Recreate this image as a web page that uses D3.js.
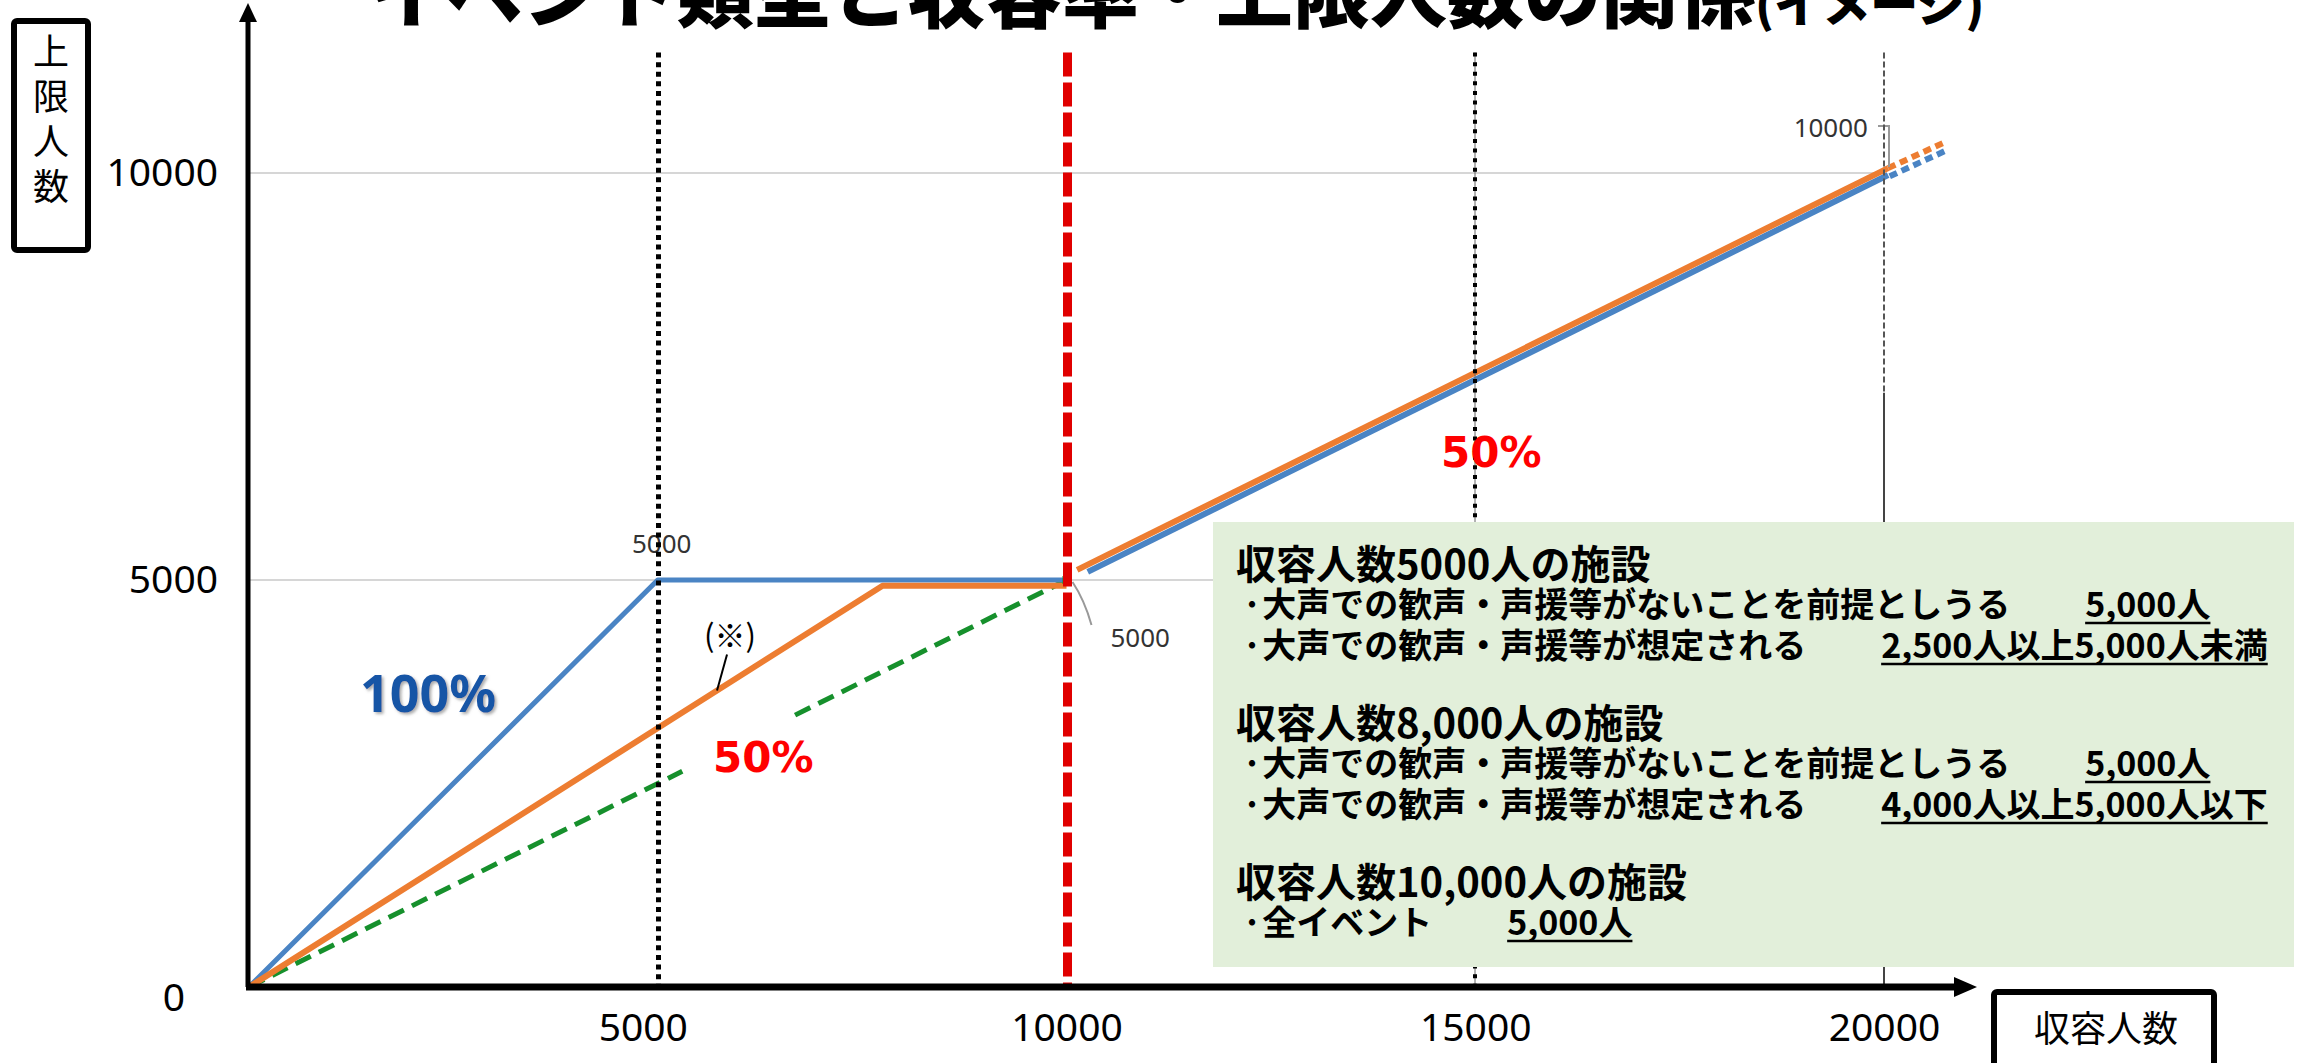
<!DOCTYPE html>
<html>
<head>
<meta charset="utf-8">
<script src="https://cdn.jsdelivr.net/npm/d3@7"></script>
<style>
  body { margin: 0; background: #fff; }
  svg { display: block; }
</style>
</head>
<body>
<svg id="chart" width="2314" height="1063"></svg>
<script>
// ---- data ----
const xTicks = [5000, 10000, 15000, 20000];
const yTicks = [0, 5000, 10000];

// 100% (blue)
const blueX = [0, 5000, 10000];
const blueY = [0, 5000, 5000];
const blueUpperX = [10260, 20050];
const blueUpperY = [5100, 9975];
const blueDotX = [20070, 20790];
const blueDotY = [9960, 10290];

// (※) (orange)
const orangeX = [0, 7750, 10000];
const orangeY = [0, 4930, 4930];
const orangeUpperX = [10130, 20050];
const orangeUpperY = [5125, 10060];
const orangeDotX = [20050, 20770];
const orangeDotY = [10060, 10390];

// 50% (green dashed, broken behind the label box)
const greenLowX = [0, 5300];
const greenLowY = [0, 2650];
const greenHighX = [6680, 10000];
const greenHighY = [3340, 5000];

// vertical guide lines
const guideX = [5000, 10000, 15000, 20000];
const guideTopValue = 11480;

// data labels [x, y]
const pointLabels = [[5000, 5000], [10000, 5000], [20000, 10000]];

// text box contents
const facilityTitles = ["収容人数5000人の施設", "収容人数8,000人の施設", "収容人数10,000人の施設"];
const facilityRules = [
  [["大声での歓声・声援等がないことを前提としうる", "5,000人"], ["大声での歓声・声援等が想定される", "2,500人以上5,000人未満"]],
  [["大声での歓声・声援等がないことを前提としうる", "5,000人"], ["大声での歓声・声援等が想定される", "4,000人以上5,000人以下"]],
  [["全イベント", "5,000人"]]
];

// ---- layout ----
const JP = "'Noto Sans CJK JP', sans-serif";
const NUM = "'Noto Sans', sans-serif";
const BLUE = "#4a84c4", ORANGE = "#ed7d31", GREEN = "#16902c", RED = "#e00000";

const svg = d3.select("#chart");
const x = d3.scaleLinear().domain([0, 20000]).range([249, 1884]);
const y = d3.scaleLinear().domain([0, 10000]).range([987, 173]);

const pts = (xs, ys) => xs.map((v, i) => [v, ys[i]]);
const line = d3.line()
  .x(d => x(d[0]))
  .y(d => y(d[1]));

// gridlines
svg.append("g").selectAll("line")
  .data(yTicks.filter(v => v > 0))
  .join("line")
  .attr("x1", x(0)).attr("x2", x(20000))
  .attr("y1", d => y(d)).attr("y2", d => y(d))
  .attr("stroke", "#d6d6d6").attr("stroke-width", 2);

// series
function drawSeries(data, color, width, dash) {
  svg.append("path")
    .datum(data)
    .attr("d", line)
    .attr("fill", "none")
    .attr("stroke", color)
    .attr("stroke-width", width)
    .attr("stroke-dasharray", dash || null)
    .attr("stroke-linejoin", "round");
}
drawSeries(pts(greenLowX, greenLowY), GREEN, 5, "17,9");
drawSeries(pts(greenHighX, greenHighY), GREEN, 5, "17,9");
drawSeries(pts(blueX, blueY), BLUE, 5);
drawSeries(pts(orangeX, orangeY), ORANGE, 6);
drawSeries(pts(blueUpperX, blueUpperY), BLUE, 6);
drawSeries(pts(blueDotX, blueDotY), BLUE, 6, "8,5");
drawSeries(pts(orangeUpperX, orangeUpperY), ORANGE, 6);
drawSeries(pts(orangeDotX, orangeDotY), ORANGE, 6, "8,5");

// green marker at the 50% end point
svg.append("rect")
  .attr("x", x(10000) - 4).attr("y", y(5000) - 4)
  .attr("width", 8).attr("height", 8)
  .attr("fill", GREEN);

// data labels with leader lines
const labelG = svg.append("g")
  .attr("font-family", NUM).attr("font-size", 26).attr("fill", "#333");
// (5000,5000): label just above the corner
labelG.append("text")
  .attr("x", x(pointLabels[0][0]) + 4).attr("y", y(pointLabels[0][1]) - 27)
  .attr("text-anchor", "middle")
  .text(pointLabels[0][1]);
// (10000,5000): label below right with curved leader
const p1 = [x(pointLabels[1][0]), y(pointLabels[1][1])];
svg.append("path")
  .attr("d", `M${p1[0] + 6},${p1[1] + 2} Q${p1[0] + 18},${p1[1] + 20} ${p1[0] + 25},${p1[1] + 45}`)
  .attr("fill", "none").attr("stroke", "#999").attr("stroke-width", 2);
labelG.append("text")
  .attr("x", p1[0] + 44).attr("y", p1[1] + 67)
  .text(pointLabels[1][1]);
// (20000,10000): label above left with bracket leader
const p2 = [x(pointLabels[2][0]), y(pointLabels[2][1])];
svg.append("path")
  .attr("d", `M${p2[0] - 6},${p2[1] - 47} H${p2[0] + 5} V${p2[1] - 6}`)
  .attr("fill", "none").attr("stroke", "#999").attr("stroke-width", 2);
labelG.append("text")
  .attr("x", p2[0] - 16).attr("y", p2[1] - 36)
  .attr("text-anchor", "end")
  .text(pointLabels[2][1]);

// vertical guides (snapped to whole pixels so the dots stay crisp)
const guideStyles = [
  { color: "#000", width: 5, dash: "5,4.6" },
  { color: RED, width: 9, dash: "24,6" },
  { color: "#000", width: 4, dash: "4,5.6" },
  { color: "#555", width: 2, dash: "6,3" }
];
guideX.forEach((g, i) => {
  const s = guideStyles[i];
  const gx = Math.round(x(g)) + (s.width % 2 ? 0.5 : 0);
  if (i === 2) {
    svg.append("line")
      .attr("x1", gx).attr("x2", gx)
      .attr("y1", y(guideTopValue)).attr("y2", y(0))
      .attr("stroke", "#666").attr("stroke-width", 1);
  }
  const bottom = i === 3 ? 7300 : 0;
  svg.append("line")
    .attr("x1", gx).attr("x2", gx)
    .attr("y1", y(guideTopValue)).attr("y2", y(bottom))
    .attr("stroke", s.color).attr("stroke-width", s.width)
    .attr("stroke-dasharray", s.dash);
  if (i === 3) {
    svg.append("line")
      .attr("x1", gx).attr("x2", gx)
      .attr("y1", y(bottom)).attr("y2", y(0))
      .attr("stroke", "#444").attr("stroke-width", 2);
  }
});

// axes (labels from d3, lines drawn with arrowheads)
const fmt = d3.format("d");
const xAxis = svg.append("g")
  .attr("transform", `translate(0,${y(0)})`)
  .call(d3.axisBottom(x).tickValues(xTicks).tickFormat(fmt).tickSize(0).tickPadding(26));
xAxis.select(".domain").remove();
xAxis.selectAll("text")
  .attr("font-family", NUM).attr("font-size", 39).attr("fill", "#000");
xAxis.selectAll(".tick").filter(d => d === 5000).select("text")
  .attr("x", -15);

const yAxis = svg.append("g")
  .attr("transform", `translate(${x(0)},0)`)
  .call(d3.axisLeft(y).tickValues(yTicks).tickFormat(fmt).tickSize(0).tickPadding(31));
yAxis.select(".domain").remove();
yAxis.selectAll("text")
  .attr("font-family", NUM).attr("font-size", 39).attr("fill", "#000");
yAxis.selectAll(".tick").filter(d => d === 0).select("text")
  .attr("x", -64).attr("y", 11);

svg.append("line")
  .attr("x1", x(0) - 1).attr("x2", x(0) - 1)
  .attr("y1", y(0)).attr("y2", 20)
  .attr("stroke", "#000").attr("stroke-width", 5);
svg.append("path")
  .attr("d", `M${x(0) - 1},3 L${x(0) - 10},22 L${x(0) + 8},22 Z`)
  .attr("fill", "#000");
svg.append("line")
  .attr("x1", x(0) - 3).attr("x2", 1956)
  .attr("y1", y(0)).attr("y2", y(0))
  .attr("stroke", "#000").attr("stroke-width", 7);
svg.append("path")
  .attr("d", `M1977,${y(0)} L1954,${y(0) - 10} L1954,${y(0) + 10} Z`)
  .attr("fill", "#000");

// annotations
const defs = svg.append("defs");
const shadow = defs.append("filter").attr("id", "shadow")
  .attr("x", "-10%").attr("y", "-10%").attr("width", "130%").attr("height", "140%");
shadow.append("feDropShadow")
  .attr("dx", 2).attr("dy", 2).attr("stdDeviation", 1.5)
  .attr("flood-color", "#777").attr("flood-opacity", 0.6);

svg.append("text")
  .attr("x", 360).attr("y", 712)
  .attr("font-family", NUM).attr("font-weight", 700).attr("font-size", 52)
  .attr("fill", "#1654a6").attr("filter", "url(#shadow)")
  .text("100%");

svg.append("text")
  .attr("x", 713).attr("y", 772)
  .attr("font-family", "'DejaVu Sans', sans-serif").attr("font-weight", 700).attr("font-size", 42)
  .attr("fill", "#ff0000")
  .text("50%");
svg.append("text")
  .attr("x", 1441).attr("y", 467)
  .attr("font-family", "'DejaVu Sans', sans-serif").attr("font-weight", 700).attr("font-size", 42)
  .attr("fill", "#ff0000")
  .text("50%");

// (※) with leader to the orange line
const noteX = 5725;
const noteY = orangeY[1] / orangeX[1] * noteX;
svg.append("line")
  .attr("x1", x(noteX) + 10).attr("y1", y(noteY) - 36)
  .attr("x2", x(noteX)).attr("y2", y(noteY))
  .attr("stroke", "#000").attr("stroke-width", 2);
svg.append("text")
  .attr("x", x(noteX) + 13).attr("y", y(noteY) - 44)
  .attr("text-anchor", "middle")
  .attr("font-family", JP).attr("font-size", 31)
  .text("(※)");

// green info box
svg.append("rect")
  .attr("x", 1213).attr("y", 522).attr("width", 1081).attr("height", 445)
  .attr("fill", "#e2efda");

const boxG = svg.append("g")
  .attr("font-family", JP).attr("font-weight", 700).attr("fill", "#000");
facilityTitles.forEach((title, i) => {
  const top = 579 + i * 159;
  boxG.append("text")
    .attr("x", 1236).attr("y", top)
    .attr("font-size", 40)
    .text(title);
  facilityRules[i].forEach((rule, j) => {
    const base = top + 38 + j * 41;
    const lbl = boxG.append("text")
      .attr("x", 1242).attr("y", base)
      .attr("font-size", 34)
      .text("·" + rule[0]);
    const vx = 1242 + lbl.node().getComputedTextLength() + 75;
    const val = boxG.append("text")
      .attr("x", vx).attr("y", base)
      .attr("font-size", 34)
      .text(rule[1]);
    const w = val.node().getComputedTextLength();
    boxG.append("line")
      .attr("x1", vx).attr("x2", vx + w)
      .attr("y1", base + 6).attr("y2", base + 6)
      .attr("stroke", "#000").attr("stroke-width", 2.5);
  });
});

// axis title boxes
svg.append("rect")
  .attr("x", 14).attr("y", 21).attr("width", 74).attr("height", 229)
  .attr("rx", 3)
  .attr("fill", "#fff").attr("stroke", "#000").attr("stroke-width", 6);
const yTitle = svg.append("text")
  .attr("font-family", JP).attr("font-size", 36).attr("text-anchor", "middle");
"上限人数".split("").forEach((ch, i) => {
  yTitle.append("tspan").attr("x", 51).attr("y", 65 + i * 45).text(ch);
});

svg.append("rect")
  .attr("x", 1994).attr("y", 992).attr("width", 220).attr("height", 90)
  .attr("rx", 3)
  .attr("fill", "#fff").attr("stroke", "#000").attr("stroke-width", 6);
svg.append("text")
  .attr("x", 2106).attr("y", 1042)
  .attr("text-anchor", "middle")
  .attr("font-family", JP).attr("font-size", 36)
  .text("収容人数");

// title (mostly above the visible area)
const title = svg.append("text")
  .attr("x", 369).attr("y", 22)
  .attr("font-family", JP).attr("font-weight", 900).attr("font-size", 77)
  .text("イベント類型と収容率・上限人数の関係");
title.append("tspan").attr("font-size", 48).text("(イメージ)");
</script>
</body>
</html>
